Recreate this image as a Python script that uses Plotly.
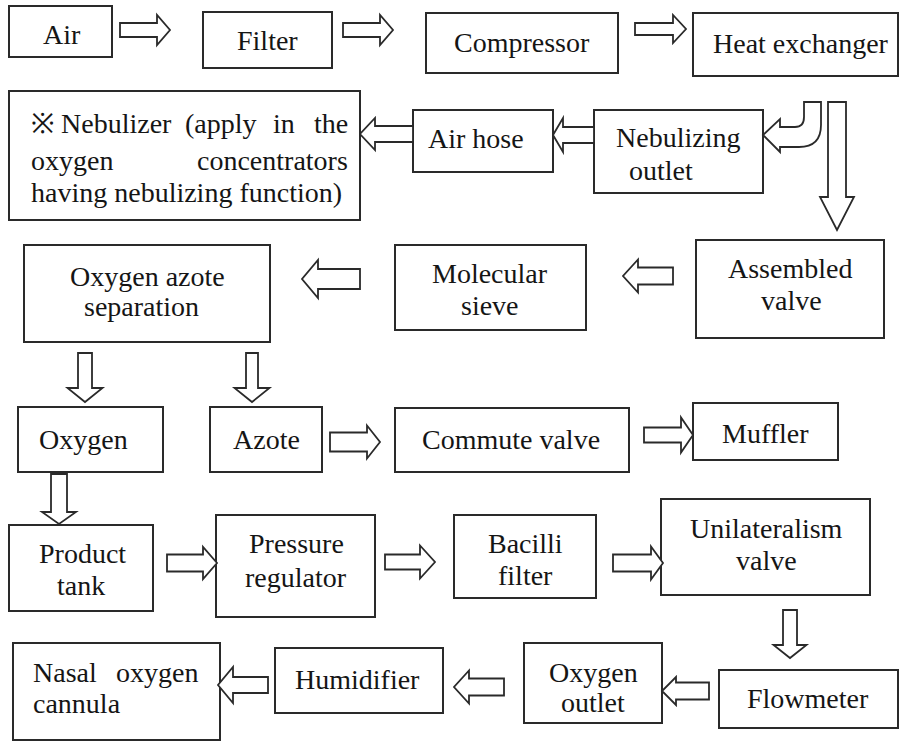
import plotly.graph_objects as go

W, H = 902, 741

# ---- text content (one entry per box, list of lines) ----
labels = {
    "air": ["Air"],
    "filter": ["Filter"],
    "compressor": ["Compressor"],
    "heatex": ["Heat exchanger"],
    "airhose": ["Air hose"],
    "nebout": ["Nebulizing", "outlet"],
    "oas": ["Oxygen azote", "separation"],
    "molsieve": ["Molecular", "sieve"],
    "assembled": ["Assembled", "valve"],
    "oxygen": ["Oxygen"],
    "azote": ["Azote"],
    "commute": ["Commute valve"],
    "muffler": ["Muffler"],
    "ptank": ["Product", "tank"],
    "preg": ["Pressure", "regulator"],
    "bacilli": ["Bacilli", "filter"],
    "unilat": ["Unilateralism", "valve"],
    "flowmeter": ["Flowmeter"],
    "oxout": ["Oxygen", "outlet"],
    "humid": ["Humidifier"],
}
nebulizer_words = [["※", "Nebulizer", "(apply", "in", "the"],
                   ["oxygen", "concentrators"],
                   ["having nebulizing function)"]]
nasal_words = [["Nasal", "oxygen"], ["cannula"]]

# ---- layout geometry (pixels, y downward) ----
boxes = {
    "air": (9, 6, 112, 57),
    "filter": (203, 12, 332, 68),
    "compressor": (426, 13, 618, 73),
    "heatex": (693, 13, 898, 76),
    "nebulizer": (9, 91, 360, 220),
    "airhose": (413, 110, 553, 172),
    "nebout": (594, 110, 763, 193),
    "oas": (24, 245, 270, 342),
    "molsieve": (395, 245, 586, 330),
    "assembled": (696, 240, 884, 338),
    "oxygen": (18, 407, 163, 472),
    "azote": (210, 407, 322, 472),
    "commute": (395, 408, 629, 472),
    "muffler": (693, 403, 838, 460),
    "ptank": (9, 525, 153, 611),
    "preg": (216, 515, 375, 617),
    "bacilli": (454, 515, 596, 598),
    "unilat": (661, 499, 870, 595),
    "flowmeter": (719, 670, 898, 728),
    "oxout": (524, 643, 662, 723),
    "humid": (275, 648, 443, 713),
    "nasal": (13, 643, 220, 740),
}
text_pos = {
    "air": [(62, 34)],
    "filter": [(267, 40)],
    "compressor": [(522, 42)],
    "heatex": [(801, 43)],
    "airhose": [(476, 138)],
    "nebout": [(678, 137), (661, 170)],
    "oas": [(147, 276), (141, 306)],
    "molsieve": [(490, 273), (490, 305)],
    "assembled": [(790, 268), (791, 300)],
    "oxygen": [(83, 439)],
    "azote": [(266, 439)],
    "commute": [(511, 439)],
    "muffler": [(765, 433)],
    "ptank": [(82, 553), (81, 585)],
    "preg": [(296, 543), (296, 577)],
    "bacilli": [(525, 543), (525, 575)],
    "unilat": [(766, 528), (766, 560)],
    "flowmeter": [(808, 698)],
    "oxout": [(593, 672), (593, 702)],
    "humid": [(357, 679)],
}
neb_word_x = [[29, 59, 183, 271, 350], [29, 350], [29]]
neb_word_anchor = [["left", "left", "left", "left", "right"], ["left", "right"], ["left"]]
neb_line_y = [123, 160, 192]
nasal_word_x = [[31, 200], [31]]
nasal_word_anchor = [["left", "right"], ["left"]]
nasal_line_y = [672, 703]

# horizontal block arrows: (tail_x, headstart_x, tip_x, center_y, shaft_half, head_half)
h_arrows = [
    (120, 157, 170, 30, 7, 15),
    (343, 380, 393, 30, 7, 15),
    (635, 673, 686, 29, 6, 14),
    (413, 375, 360, 134, 8, 16),
    (594, 563, 553, 135, 8, 17),
    (360, 318, 302, 279, 10, 19),
    (673, 638, 623, 276, 8.5, 16.5),
    (330, 367, 380, 442, 9.5, 16.5),
    (644, 681, 693, 435, 7.5, 17.5),
    (167, 203, 217, 563, 8.5, 16),
    (385, 420, 435, 562, 7.5, 16.5),
    (613, 651, 663, 563, 8.5, 16.5),
    (709, 676, 662, 691, 8.5, 14),
    (504, 469, 454, 687, 8.5, 16.5),
    (268, 233, 218, 685, 8, 18),
]
# vertical block arrows: (center_x, tail_y, headstart_y, tip_y, shaft_half, head_half)
v_arrows = [
    (837, 102, 197, 230, 9, 17),
    (85, 353, 388, 402, 7, 17.5),
    (252, 353, 388, 402, 6, 17.5),
    (59, 474, 512, 524, 8, 17),
    (790, 610, 645, 658, 7, 16.5),
]

LINE = "#2a2a2a"
TXT = "#151515"
FONT = "Liberation Serif"
FS = 28

shapes = []
for k, (x0, y0, x1, y1) in boxes.items():
    shapes.append(dict(type="rect", x0=x0, y0=y0, x1=x1, y1=y1,
                       line=dict(color=LINE, width=2), fillcolor="white", layer="below"))

for (xt, xh, xp, c, s, h) in h_arrows:
    p = (f"M{xt},{c-s} L{xh},{c-s} L{xh},{c-h} L{xp},{c} L{xh},{c+h} "
         f"L{xh},{c+s} L{xt},{c+s} Z")
    shapes.append(dict(type="path", path=p, line=dict(color=LINE, width=1.8),
                       fillcolor="white", layer="below"))
for (xc, yt, yh, yp, s, h) in v_arrows:
    p = (f"M{xc-s},{yt} L{xc-s},{yh} L{xc-h},{yh} L{xc},{yp} L{xc+h},{yh} "
         f"L{xc+s},{yh} L{xc+s},{yt} Z")
    shapes.append(dict(type="path", path=p, line=dict(color=LINE, width=1.8),
                       fillcolor="white", layer="below"))

# curved arrow from heat exchanger to nebulizing outlet
curve = ("M804,102 L821,102 L821,125 Q821,147 799,147 L780,147 L780,152 "
         "L763,135 L780,119 L780,127 L795,127 Q804,127 804,117 Z")
shapes.append(dict(type="path", path=curve, line=dict(color=LINE, width=1.8),
                   fillcolor="white", layer="below"))

annotations = []
def add_text(t, x, y, anchor="center"):
    annotations.append(dict(x=x, y=y, text=t, showarrow=False, xanchor=anchor,
                            yanchor="middle", xref="x", yref="y",
                            font=dict(family=FONT, size=FS, color=TXT)))

for k, lines in labels.items():
    for t, (x, y) in zip(lines, text_pos[k]):
        add_text(t, x, y)
for words, xs, ancs, y in zip(nebulizer_words, neb_word_x, neb_word_anchor, neb_line_y):
    for w, x, a in zip(words, xs, ancs):
        add_text(w, x, y, a)
for words, xs, ancs, y in zip(nasal_words, nasal_word_x, nasal_word_anchor, nasal_line_y):
    for w, x, a in zip(words, xs, ancs):
        add_text(w, x, y, a)

fig = go.Figure()
fig.update_layout(
    width=W, height=H, margin=dict(l=0, r=0, t=0, b=0),
    paper_bgcolor="white", plot_bgcolor="white",
    xaxis=dict(range=[0, W], visible=False),
    yaxis=dict(range=[H, 0], visible=False),
    modebar=dict(bgcolor="rgba(0,0,0,0)", color="rgba(0,0,0,0)",
                 activecolor="rgba(0,0,0,0)"),
    shapes=shapes, annotations=annotations, showlegend=False,
)
fig.write_html(
    "out.html",
    post_script=("document.body.style.margin = '0px';"
                 "document.querySelectorAll('.modebar-container').forEach("
                 "function(e){e.style.display = 'none';});"),
)
